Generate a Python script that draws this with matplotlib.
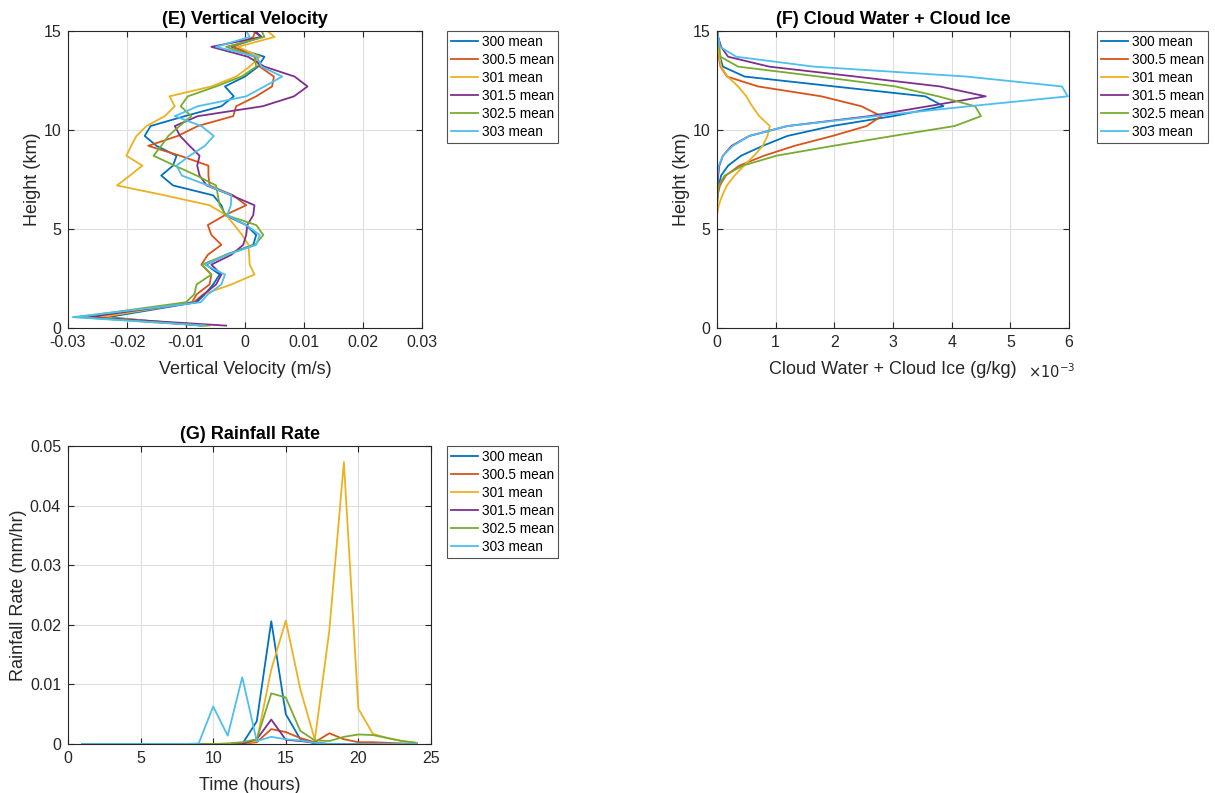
import matplotlib
matplotlib.use("Agg")
import matplotlib.pyplot as plt
from matplotlib.ticker import FuncFormatter

plt.rcParams['font.family'] = ['Liberation Sans', 'DejaVu Sans']
plt.rcParams['axes.unicode_minus'] = False

colors = ['#0072BD', '#D95319', '#EDB120', '#7E2F8E', '#77AC30', '#4DBEEE']
labels = ['300 mean', '300.5 mean', '301 mean', '301.5 mean', '302.5 mean', '303 mean']

# vertical levels (km)
heights = [0.12, 0.55, 1.3, 1.7, 2.2, 2.7, 3.2, 3.7, 4.2, 4.7, 5.2, 5.7, 6.2, 6.7, 7.2, 7.7,
           8.2, 8.7, 9.2, 9.7, 10.2, 10.7, 11.2, 11.7, 12.2, 12.7, 13.2, 13.7, 14.2, 14.7, 15.2]

# (E) vertical velocity (m/s)
w_300 = [-0.0075, -0.0232, -0.0082, -0.0068, -0.0054, -0.0043, -0.0066, -0.0032, 0.0014, 0.0019, 0.0002,
         -0.0034, -0.0040, -0.0054, -0.0122, -0.0142, -0.0122, -0.0116, -0.0150, -0.0170, -0.0160, -0.0102,
         -0.0040, -0.0019, -0.0034, 0.0000, 0.0022, 0.0033, -0.0023, 0.0028, 0.0004]
w_3005 = [-0.0070, -0.0260, -0.0090, -0.0082, -0.0060, -0.0057, -0.0074, -0.0063, -0.0040, -0.0057, -0.0063,
          -0.0034, 0.0002, -0.0020, -0.0060, -0.0062, -0.0062, -0.0110, -0.0164, -0.0114, -0.0080, -0.0020,
          -0.0015, 0.0019, 0.0046, 0.0049, 0.0025, 0.0016, -0.0020, 0.0014, 0.0020]
w_301 = [-0.0060, -0.0244, -0.0088, -0.0071, -0.0023, 0.0016, 0.0008, 0.0007, 0.0006, -0.0005, -0.0018,
         -0.0032, -0.0060, -0.0136, -0.0217, -0.0195, -0.0174, -0.0201, -0.0193, -0.0184, -0.0167, -0.0136,
         -0.0119, -0.0128, -0.0057, -0.0015, 0.0008, 0.0025, -0.0012, 0.0050, 0.0030]
w_3015 = [-0.0032, -0.0266, -0.0085, -0.0070, -0.0049, -0.0040, -0.0057, -0.0023, -0.0003, 0.0002, 0.0004,
          0.0014, 0.0016, -0.0023, -0.0065, -0.0077, -0.0081, -0.0077, -0.0094, -0.0110, -0.0119, -0.0080,
          0.0030, 0.0083, 0.0106, 0.0084, 0.0033, 0.0005, -0.0057, 0.0028, 0.0010]
w_3025 = [-0.0065, -0.0283, -0.0100, -0.0086, -0.0082, -0.0057, -0.0073, -0.0032, 0.0017, 0.0031, 0.0019,
          -0.0032, -0.0043, -0.0046, -0.0049, -0.0082, -0.0119, -0.0155, -0.0142, -0.0130, -0.0111, -0.0091,
          -0.0109, -0.0097, -0.0049, -0.0006, 0.0019, 0.0016, -0.0032, 0.0033, 0.0025]
w_303 = [-0.0068, -0.0292, -0.0075, -0.0063, -0.0040, -0.0034, -0.0068, -0.0030, 0.0019, 0.0025, 0.0002,
         -0.0030, -0.0024, -0.0023, -0.0063, -0.0107, -0.0116, -0.0094, -0.0068, -0.0053, -0.0074, -0.0119,
         -0.0080, 0.0002, 0.0033, 0.0063, 0.0028, 0.0020, -0.0049, 0.0008, -0.0002]

# (F) cloud water + cloud ice (in units of 1e-3 g/kg)
q_300 = [0, 0, 0, 0, 0, 0, 0, 0, 0, 0, 0, 0, 0, 0.01, 0.03, 0.07, 0.19, 0.41, 0.78, 1.20, 1.96, 3.00,
         3.86, 3.55, 2.00, 0.47, 0.10, 0.05, 0.02, 0.01, 0]
q_3005 = [0, 0, 0, 0, 0, 0, 0, 0, 0, 0, 0, 0, 0, 0.01, 0.05, 0.15, 0.38, 0.80, 1.32, 1.97, 2.55, 2.80,
          2.46, 1.78, 0.70, 0.17, 0.06, 0.03, 0.02, 0.01, 0]
q_301 = [0, 0, 0, 0, 0, 0, 0, 0, 0, 0, 0, 0, 0.03, 0.09, 0.17, 0.30, 0.46, 0.63, 0.78, 0.86, 0.90, 0.72,
         0.60, 0.50, 0.36, 0.18, 0.07, 0.04, 0.02, 0.01, 0]
q_3015 = [0, 0, 0, 0, 0, 0, 0, 0, 0, 0, 0, 0, 0, 0, 0.01, 0.02, 0.04, 0.10, 0.25, 0.55, 1.20, 2.60,
          3.60, 4.58, 3.80, 2.36, 0.89, 0.19, 0.07, 0.02, 0]
q_3025 = [0, 0, 0, 0, 0, 0, 0, 0, 0, 0, 0, 0, 0, 0.01, 0.03, 0.13, 0.44, 1.01, 1.98, 3.00, 4.05, 4.50,
          4.40, 3.77, 3.04, 1.74, 0.36, 0.06, 0.04, 0.02, 0]
q_303 = [0, 0, 0, 0, 0, 0, 0, 0, 0, 0, 0, 0, 0, 0, 0, 0.01, 0.03, 0.10, 0.27, 0.55, 1.20, 2.70,
         4.30, 5.98, 5.88, 4.25, 1.65, 0.33, 0.05, 0.02, 0]

# (G) rainfall rate (mm/hr)
hours = list(range(1, 25))
r_300 = [0, 0, 0, 0, 0, 0, 0, 0, 0, 0, 0, 0, 0.0038, 0.0206, 0.0050, 0.0008, 0.0001, 0, 0, 0, 0, 0, 0, 0]
r_3005 = [0, 0, 0, 0, 0, 0, 0, 0, 0, 0, 0, 0, 0.0003, 0.0025, 0.0020, 0.0010, 0.0003, 0.0018, 0.0008,
          0.0003, 0.0003, 0.0002, 0.0001, 0]
r_301 = [0, 0, 0, 0, 0, 0, 0, 0, 0, 0, 0, 0, 0.0005, 0.0125, 0.0207, 0.0092, 0.0007, 0.0191, 0.0473,
         0.0059, 0.0017, 0.0010, 0.0005, 0.0002]
r_3015 = [0, 0, 0, 0, 0, 0, 0, 0, 0, 0, 0, 0, 0.0008, 0.0041, 0.0007, 0.0005, 0.0002, 0, 0, 0, 0, 0, 0, 0]
r_3025 = [0, 0, 0, 0, 0, 0, 0, 0, 0, 0, 0.0001, 0.0003, 0.0008, 0.0085, 0.0078, 0.0022, 0.0006, 0.0005,
          0.0012, 0.0016, 0.0015, 0.0010, 0.0005, 0.0002]
r_303 = [0, 0, 0, 0, 0, 0, 0, 0, 0.0001, 0.0063, 0.0014, 0.0112, 0.0005, 0.0012, 0.0008, 0.0006, 0.0002,
         0, 0, 0, 0, 0, 0, 0]

W = [w_300, w_3005, w_301, w_3015, w_3025, w_303]
Q = [q_300, q_3005, q_301, q_3015, q_3025, q_303]
R = [r_300, r_3005, r_301, r_3015, r_3025, r_303]

fig = plt.figure(figsize=(12.15, 7.93), dpi=100)
W_PX, H_PX = 1215, 793


def add_ax(l, t, r, b):
    return fig.add_axes([l / W_PX, 1 - b / H_PX, (r - l) / W_PX, (b - t) / H_PX])


axE = add_ax(68, 31, 422, 328)
axF = add_ax(717, 31, 1069, 328)
axG = add_ax(68, 446, 431, 744)

edge = '#262626'
lw = 1.3


def style(ax):
    ax.grid(True, color='#dedede', linewidth=0.8)
    ax.set_axisbelow(True)
    for s in ax.spines.values():
        s.set_color(edge)
        s.set_linewidth(0.8)
    ax.tick_params(direction='in', length=4, width=0.8, colors=edge, labelsize=11.5,
                   top=True, right=True, pad=5)
    for lab in ax.get_xticklabels() + ax.get_yticklabels():
        lab.set_color(edge)


def legend(ax, x_px, y_px):
    leg = ax.legend(loc='upper left', bbox_to_anchor=(x_px / W_PX, 1 - y_px / H_PX),
                    bbox_transform=fig.transFigure, fontsize=9.8, frameon=True,
                    fancybox=False, edgecolor='#262626', handlelength=2.0, handletextpad=0.25,
                    borderpad=0.3, labelspacing=0.29, borderaxespad=0)
    leg.get_frame().set_linewidth(0.8)


title_kw = dict(fontsize=13, fontweight='bold', pad=5)
lab_kw = dict(fontsize=13, color=edge)

# (E)
for y, c, l in zip(W, colors, labels):
    axE.plot(y, heights, color=c, lw=lw, label=l)
axE.set_xlim(-0.03, 0.03)
axE.set_ylim(0, 15)
axE.set_xticks([-0.03, -0.02, -0.01, 0, 0.01, 0.02, 0.03])
axE.set_xticklabels(['-0.03', '-0.02', '-0.01', '0', '0.01', '0.02', '0.03'])
axE.set_yticks([0, 5, 10, 15])
style(axE)
axE.set_title('(E) Vertical Velocity', **title_kw)
axE.set_xlabel('Vertical Velocity (m/s)', labelpad=8, **lab_kw)
axE.set_ylabel('Height (km)', labelpad=2, **lab_kw)
legend(axE, 447, 31)

# (F)
for y, c, l in zip(Q, colors, labels):
    axF.plot([v * 1e-3 for v in y], heights, color=c, lw=lw, label=l)
axF.set_xlim(0, 6e-3)
axF.set_ylim(0, 15)
axF.set_xticks([i * 1e-3 for i in range(7)])
axF.xaxis.set_major_formatter(FuncFormatter(lambda v, p: '%d' % round(v / 1e-3)))
axF.set_yticks([0, 5, 10, 15])
style(axF)
axF.set_title('(F) Cloud Water + Cloud Ice', **title_kw)
axF.set_xlabel('Cloud Water + Cloud Ice (g/kg)', labelpad=8, **lab_kw)
axF.set_ylabel('Height (km)', labelpad=2, **lab_kw)
axF.text((1028 - 717) / 352, (328 - 372) / 297, r'$\times10^{-3}$', transform=axF.transAxes,
         fontsize=10.5, color=edge, ha='left', va='center')
legend(axF, 1097, 31)

# (G)
for y, c, l in zip(R, colors, labels):
    axG.plot(hours, y, color=c, lw=lw, label=l)
axG.set_xlim(0, 25)
axG.set_ylim(0, 0.05)
axG.set_xticks([0, 5, 10, 15, 20, 25])
axG.set_yticks([0, 0.01, 0.02, 0.03, 0.04, 0.05])
axG.set_yticklabels(['0', '0.01', '0.02', '0.03', '0.04', '0.05'])
style(axG)
axG.set_title('(G) Rainfall Rate', **title_kw)
axG.set_xlabel('Time (hours)', labelpad=8, **lab_kw)
axG.set_ylabel('Rainfall Rate (mm/hr)', labelpad=2, **lab_kw)
legend(axG, 447, 446)

fig.savefig('out.png', dpi=100)
